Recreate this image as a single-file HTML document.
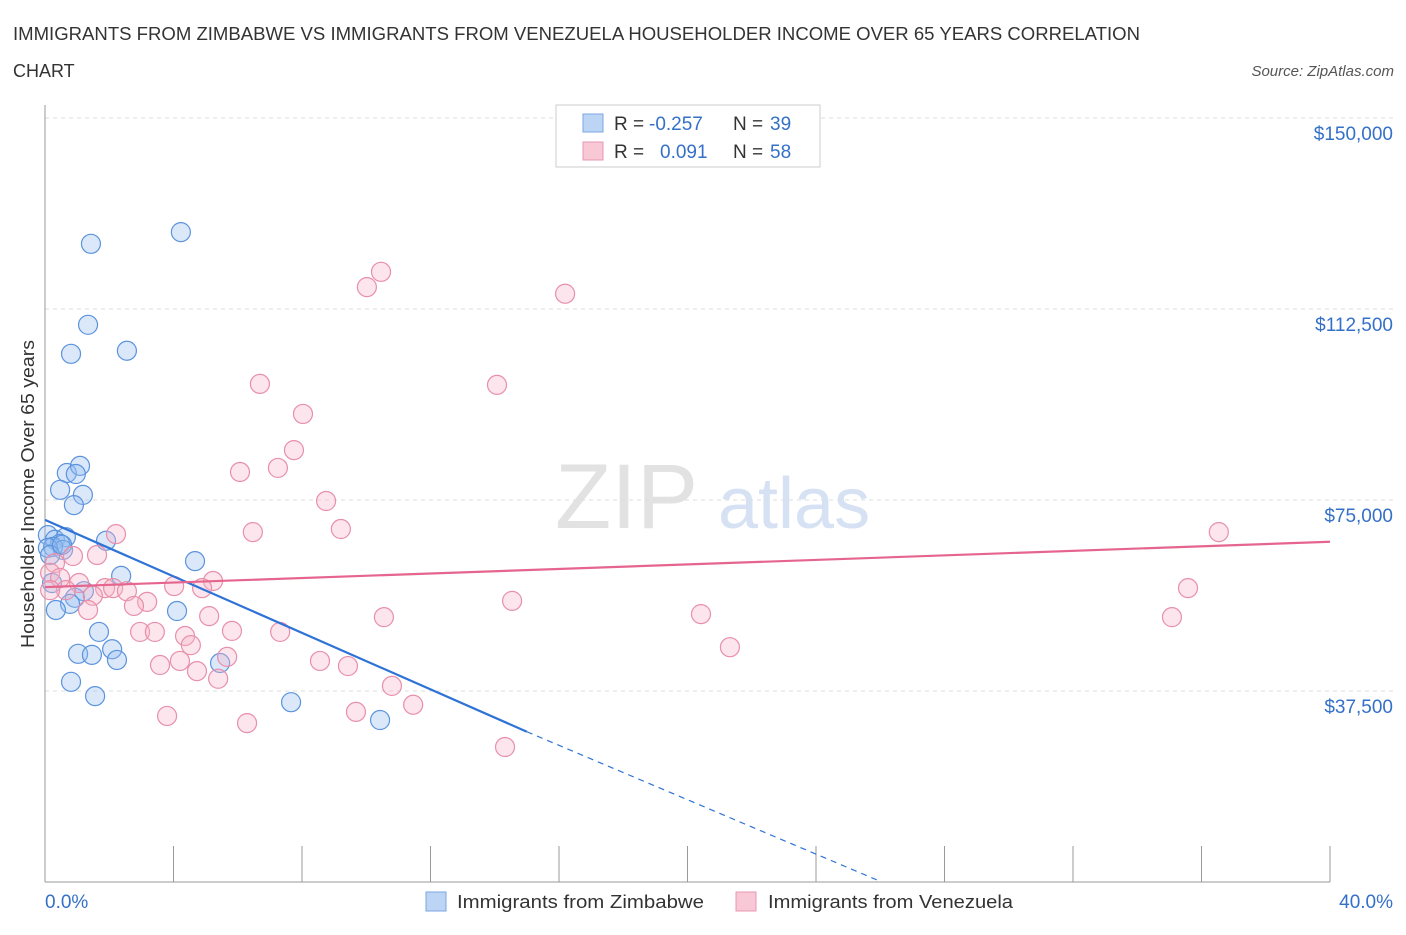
<!DOCTYPE html>
<html><head><meta charset="utf-8">
<style>
body{margin:0;background:#fff;font-family:"Liberation Sans",sans-serif;}
svg text{font-family:"Liberation Sans",sans-serif;}
</style></head>
<body>
<svg id="chart" width="1406" height="930" viewBox="0 0 1406 930" xmlns="http://www.w3.org/2000/svg">
<text x="13" y="40" font-size="18" fill="#333" textLength="1127" lengthAdjust="spacingAndGlyphs">IMMIGRANTS FROM ZIMBABWE VS IMMIGRANTS FROM VENEZUELA HOUSEHOLDER INCOME OVER 65 YEARS CORRELATION</text>
<text x="13" y="77" font-size="18" fill="#333">CHART</text>
<text x="1394" y="76" font-size="15" fill="#555" text-anchor="end" font-style="italic">Source: ZipAtlas.com</text>
<text x="555" y="528" font-size="92" fill="#e2e2e2" font-family="Liberation Serif">ZIP</text>
<text x="718" y="528" font-size="72" fill="#d6e2f3">atlas</text>
<g id="grid"></g>
<g id="axes"></g>
<g id="pts"></g>
<g id="trend"></g>
<g>
<rect x="556" y="105" width="264" height="62" fill="#fff" stroke="#ccc"/>
<rect x="583" y="114" width="20" height="18" fill="#bcd5f5" stroke="#7aa6e0"/>
<text x="614" y="130" font-size="19" fill="#333">R =</text>
<text x="649" y="130" font-size="19" fill="#3570c8">-0.257</text>
<text x="733" y="130" font-size="19" fill="#333">N =</text>
<text x="770" y="130" font-size="19" fill="#3570c8">39</text>
<rect x="583" y="142" width="20" height="18" fill="#f8c8d6" stroke="#e897b0"/>
<text x="614" y="158" font-size="19" fill="#333">R =</text>
<text x="660" y="158" font-size="19" fill="#3570c8">0.091</text>
<text x="733" y="158" font-size="19" fill="#333">N =</text>
<text x="770" y="158" font-size="19" fill="#3570c8">58</text>
</g>
<g>
<rect x="426" y="892" width="20" height="19" fill="#bcd5f5" stroke="#7aa6e0"/>
<text x="457" y="908" font-size="18" fill="#333" textLength="247" lengthAdjust="spacingAndGlyphs">Immigrants from Zimbabwe</text>
<rect x="736" y="892" width="20" height="19" fill="#f8c8d6" stroke="#e897b0"/>
<text x="768" y="908" font-size="18" fill="#333" textLength="245" lengthAdjust="spacingAndGlyphs">Immigrants from Venezuela</text>
</g>
<text transform="translate(34,494) rotate(-90)" font-size="18" fill="#333" text-anchor="middle" textLength="308" lengthAdjust="spacingAndGlyphs">Householder Income Over 65 years</text>
</svg>
<script>
const yTicks=[37.5,75,112.5,150];
const yTickLabels=["$37,500","$75,000","$112,500","$150,000"];
const xTickLabels=["0.0%","40.0%"];
const zimX=[1.43,4.23,1.34,0.81,2.55,0.68,1.09,0.96,0.47,1.18,0.90,0.09,0.31,0.65,0.47,0.25,0.56,1.90,4.67,2.37,0.22,1.21,0.93,0.78,0.34,4.11,1.68,2.09,1.03,1.46,2.24,5.45,0.81,1.56,7.66,10.43,0.09,0.16,0.53];
const zimY=[125.3,127.6,109.4,103.7,104.3,80.3,81.7,80.1,77.0,76.0,74.0,68.1,67.2,67.7,66.4,65.8,65.2,67.0,63.0,60.1,58.7,57.1,55.8,54.6,53.4,53.2,49.1,45.7,44.8,44.6,43.6,43.0,39.3,36.5,35.3,31.8,65.6,64.2,66.2];
const venX=[10.46,10.02,16.19,6.69,14.07,8.03,7.75,6.07,7.25,8.75,9.21,6.47,2.21,36.54,1.62,0.87,0.31,0.16,0.47,1.06,0.65,1.87,2.12,2.55,1.49,4.02,5.23,4.89,3.18,2.77,14.54,35.58,35.08,20.42,10.55,5.11,1.34,2.96,3.42,4.36,7.32,5.82,4.54,21.32,5.67,3.58,4.20,8.56,9.43,4.73,5.39,10.80,11.46,3.80,9.68,6.29,14.32,0.16];
const venY=[119.8,116.8,115.5,97.8,97.6,91.9,84.8,80.5,81.3,74.8,69.3,68.7,68.3,68.7,64.2,64.0,62.6,60.7,59.7,58.7,57.3,57.7,57.7,57.1,56.2,58.1,59.1,57.7,55.0,54.2,55.2,57.7,52.0,52.6,52.0,52.2,53.4,49.1,49.1,48.3,49.1,49.3,46.5,46.1,44.2,42.6,43.4,43.4,42.4,41.4,39.9,38.5,34.8,32.6,33.4,31.2,26.5,57.3];
const zimTrend=[[0,71.1],[15.0,29.5],[25.9,0.4]];
const venTrend=[[0,57.9],[40,66.8]];
const NS="http://www.w3.org/2000/svg";
const X=p=>45+p*32.125, Y=v=>882-v*5.0933;
function mk(t,a,parent){const e=document.createElementNS(NS,t);for(const k in a)e.setAttribute(k,a[k]);parent.appendChild(e);return e;}
const grid=document.getElementById('grid'),axes=document.getElementById('axes'),pts=document.getElementById('pts'),tr=document.getElementById('trend');
yTicks.forEach((v,i)=>{
 const l=mk('line',{x1:45,x2:1393,y1:Y(v),y2:Y(v),stroke:'#ddd','stroke-dasharray':'4,4'},grid);
 
 
 const t=mk('text',{x:1393,y:Y(v)+22,'font-size':19,fill:'#3570c8','text-anchor':'end'},axes);
 t.textContent=yTickLabels[i];
 
 
});
const ya=mk('line',{x1:45,x2:45,y1:105,y2:882,stroke:'#999'},axes);


const xa=mk('line',{x1:45,x2:1330,y1:882,y2:882,stroke:'#999'},axes);


for(let i=0;i<=10;i++){const tk=mk('line',{x1:X(i*4),x2:X(i*4),y1:846,y2:882,stroke:'#999'},axes);
 
 }
const xl0=mk('text',{x:45,y:908,'font-size':19,fill:'#3570c8'},axes);xl0.textContent=xTickLabels[0];


const xl1=mk('text',{x:1393,y:908,'font-size':19,fill:'#3570c8','text-anchor':'end'},axes);xl1.textContent=xTickLabels[1];


zimX.forEach((x,i)=>{const c=mk('circle',{cx:X(x),cy:Y(zimY[i]),r:9.5,fill:'rgba(150,190,240,0.35)',stroke:'#5b93dd','stroke-width':1.2},pts);
 
 });
venX.forEach((x,i)=>{const c=mk('circle',{cx:X(x),cy:Y(venY[i]),r:9.5,fill:'rgba(245,180,200,0.35)',stroke:'#e88fab','stroke-width':1.2},pts);
 
 });
const z1=mk('line',{x1:X(zimTrend[0][0]),y1:Y(zimTrend[0][1]),x2:X(zimTrend[1][0]),y2:Y(zimTrend[1][1]),stroke:'#2f73d6','stroke-width':2.2},tr);


const z2=mk('line',{x1:X(zimTrend[1][0]),y1:Y(zimTrend[1][1]),x2:X(zimTrend[2][0]),y2:Y(zimTrend[2][1]),stroke:'#2f73d6','stroke-width':1.2,'stroke-dasharray':'6,5'},tr);


const v1=mk('line',{x1:X(venTrend[0][0]),y1:Y(venTrend[0][1]),x2:X(venTrend[1][0]),y2:Y(venTrend[1][1]),stroke:'#e5658e','stroke-width':2.2},tr);


</script>
</body></html>
